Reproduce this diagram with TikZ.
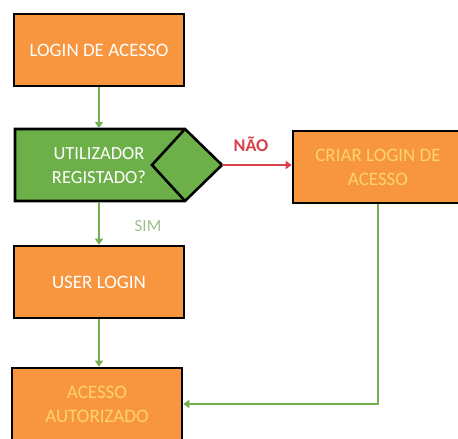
\documentclass[tikz,border=0pt]{standalone}
\usepackage{fontspec}
\setmainfont{Carlito}
\usetikzlibrary{arrows.meta}
\definecolor{boxorange}{HTML}{F7963F}
\definecolor{boxgreen}{HTML}{6DB04A}
\definecolor{flowgreen}{HTML}{74B04F}
\definecolor{noline}{HTML}{D8404C}
\definecolor{softyellow}{HTML}{FFD466}
\definecolor{simgray}{HTML}{9DBE8F}
\tikzset{
  x=1pt, y=-1pt,
  stepbox/.style={draw=black, line width=2.6pt, fill=boxorange, minimum width=170pt,
    minimum height=72pt, inner sep=0pt, align=center, font=\fontsize{19}{24}\selectfont},
  flow/.style={draw=flowgreen, line width=1.6pt, -{Triangle[length=6pt,width=8pt]}},
}
\begin{document}
\begin{tikzpicture}
\useasboundingbox (0,0) rectangle (458,439);
\clip (0,0) rectangle (458,439);
% process boxes
\node[stepbox, text=white] (login) at (99,50) {LOGIN DE ACESSO};
\node[stepbox, text=white] (user) at (99,282) {USER LOGIN};
\node[stepbox, text=softyellow] (auth) at (97,404) {ACESSO\\AUTORIZADO};
\node[stepbox, text=softyellow] (create) at (378,167) {CRIAR LOGIN DE\\ACESSO};
% decision block: rectangle with an arrow point and an inscribed diamond
\draw[line width=2.6pt, fill=boxgreen, line join=miter]
  (15,129) -- (185,129) -- (222,165) -- (185,201) -- (15,201) -- cycle;
\draw[line width=2.6pt, line join=miter] (185,129) -- (152,165) -- (185,201);
\node[text=white, align=center, font=\fontsize{18.5}{24}\selectfont] (ask) at (99,166) {UTILIZADOR\\REGISTADO?};
\coordinate (askbottom) at (99,202);
\coordinate (asktop) at (99,128);
\coordinate (asktip) at (222,165);
% connectors
\draw[flow] (login.south) -- (asktop);
\draw[flow] (askbottom) -- (user.north);
\draw[flow] (user.south) -- (user.south |- auth.north);
\draw[flow] (create.south) |- (auth.east);
\draw[draw=noline, line width=1.6pt, -{Triangle[length=6pt,width=8pt]}] (asktip) -- (asktip -| create.west);
% branch labels
\node[text=noline, font=\fontsize{18}{20}\selectfont\bfseries] (no) at (251,144) {NÃO};
\node[text=simgray, font=\fontsize{17}{20}\selectfont] (yes) at (148,226) {SIM};
\end{tikzpicture}
\end{document}
